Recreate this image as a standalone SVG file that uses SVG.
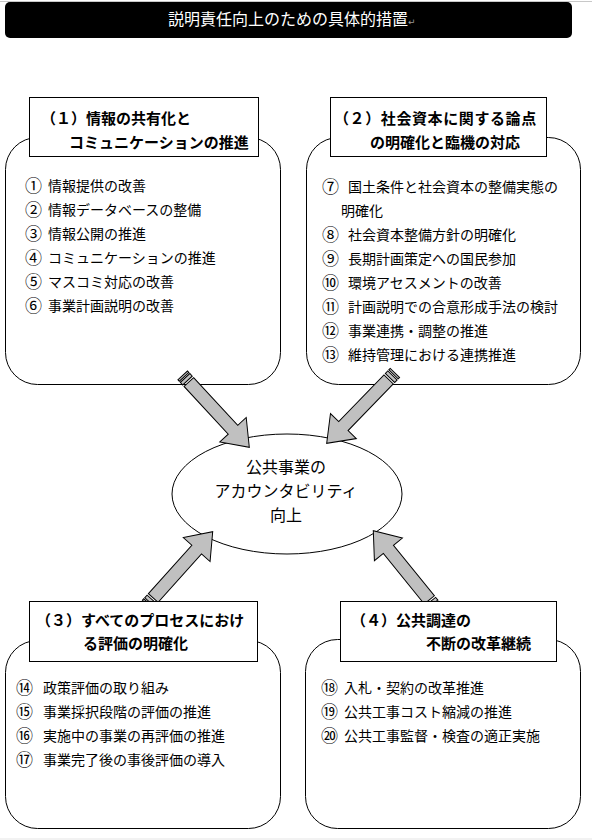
<svg xmlns="http://www.w3.org/2000/svg" width="592" height="840" viewBox="0 0 592 840">
<style>
.box{fill:#fff;stroke:#000;stroke-width:1}
.hd{fill:#fff;stroke:#000;stroke-width:1}
.h{font-family:"Noto Sans CJK JP","Noto Sans CJK SC",sans-serif;font-size:15px;font-weight:700;fill:#000}
.t{font-family:"Noto Sans CJK JP","Noto Sans CJK SC",sans-serif;font-size:14px;fill:#000}
.n{font-size:17px}
.c{font-family:"Noto Sans CJK JP","Noto Sans CJK SC",sans-serif;font-size:16px;fill:#000;text-anchor:middle}
.arr{fill:#c0c0c0;stroke:#000;stroke-width:1;stroke-linejoin:miter}
</style>
<defs>
<g id="arrow">
<rect x="-98" y="-6.5" width="2" height="13"/>
<rect x="-94.5" y="-6.5" width="3.5" height="13"/>
<path d="M-89,-6.5 H-24 V-18 L0,0 L-24,18 V6.5 H-89 Z"/>
</g>
</defs>
<rect x="0" y="838" width="592" height="2" fill="#f2f2f2"/>
<line x1="0" y1="1.5" x2="592" y2="1.5" stroke="#c8c8c8" stroke-width="1"/>
<g id="title">
<rect x="5" y="2" width="567" height="36" rx="5" fill="#000"/>
<text x="168" y="25" font-family="Noto Sans CJK JP, Noto Sans CJK SC, sans-serif" font-size="16" fill="#fff">説明責任向上のための具体的措置<tspan font-family="DejaVu Sans, sans-serif" font-size="9" fill="#999">↵</tspan></text>
</g>
<g id="node1">
<rect class="box" x="5.5" y="137.5" width="275" height="247" rx="32"/>
<text class="t" x="25" y="191"><tspan class="n" dy="1">①</tspan><tspan x="48" dy="-1">情報提供の改善</tspan></text>
<text class="t" x="25" y="215"><tspan class="n" dy="1">②</tspan><tspan x="48" dy="-1">情報データベースの整備</tspan></text>
<text class="t" x="25" y="239"><tspan class="n" dy="1">③</tspan><tspan x="48" dy="-1">情報公開の推進</tspan></text>
<text class="t" x="25" y="263"><tspan class="n" dy="1">④</tspan><tspan x="48" dy="-1">コミュニケーションの推進</tspan></text>
<text class="t" x="25" y="287"><tspan class="n" dy="1">⑤</tspan><tspan x="48" dy="-1">マスコミ対応の改善</tspan></text>
<text class="t" x="25" y="311"><tspan class="n" dy="1">⑥</tspan><tspan x="48" dy="-1">事業計画説明の改善</tspan></text>
</g>
<g id="node2">
<rect class="box" x="306.5" y="137.5" width="274" height="247" rx="32"/>
<text class="t" x="322" y="192"><tspan class="n" dy="1">⑦</tspan><tspan x="348" dy="-1">国土条件と社会資本の整備実態の</tspan></text>
<text class="t" x="341" y="216">明確化</text>
<text class="t" x="322" y="240"><tspan class="n" dy="1">⑧</tspan><tspan x="348" dy="-1">社会資本整備方針の明確化</tspan></text>
<text class="t" x="322" y="264"><tspan class="n" dy="1">⑨</tspan><tspan x="348" dy="-1">長期計画策定への国民参加</tspan></text>
<text class="t" x="322" y="288"><tspan class="n" dy="1">⑩</tspan><tspan x="348" dy="-1">環境アセスメントの改善</tspan></text>
<text class="t" x="322" y="312"><tspan class="n" dy="1">⑪</tspan><tspan x="348" dy="-1">計画説明での合意形成手法の検討</tspan></text>
<text class="t" x="322" y="336"><tspan class="n" dy="1">⑫</tspan><tspan x="348" dy="-1">事業連携・調整の推進</tspan></text>
<text class="t" x="322" y="360"><tspan class="n" dy="1">⑬</tspan><tspan x="348" dy="-1">維持管理における連携推進</tspan></text>
</g>
<g id="node3">
<rect class="box" x="5.5" y="640.5" width="275" height="188" rx="32"/>
<text class="t" x="16" y="693"><tspan class="n" dy="1">⑭</tspan><tspan x="43" dy="-1">政策評価の取り組み</tspan></text>
<text class="t" x="16" y="717"><tspan class="n" dy="1">⑮</tspan><tspan x="43" dy="-1">事業採択段階の評価の推進</tspan></text>
<text class="t" x="16" y="741"><tspan class="n" dy="1">⑯</tspan><tspan x="43" dy="-1">実施中の事業の再評価の推進</tspan></text>
<text class="t" x="16" y="765"><tspan class="n" dy="1">⑰</tspan><tspan x="43" dy="-1">事業完了後の事後評価の導入</tspan></text>
</g>
<g id="node4">
<rect class="box" x="305.5" y="639.5" width="275" height="189" rx="32"/>
<text class="t" x="321" y="693"><tspan class="n" dy="1">⑱</tspan><tspan x="344" dy="-1">入札・契約の改革推進</tspan></text>
<text class="t" x="321" y="717"><tspan class="n" dy="1">⑲</tspan><tspan x="344" dy="-1">公共工事コスト縮減の推進</tspan></text>
<text class="t" x="321" y="741"><tspan class="n" dy="1">⑳</tspan><tspan x="344" dy="-1">公共工事監督・検査の適正実施</tspan></text>
</g>
<g id="center">
<ellipse class="box" cx="287" cy="494" rx="115" ry="60"/>
<text class="c" x="286" y="473">公共事業の</text>
<text class="c" x="286" y="497">アカウンタビリティ</text>
<text class="c" x="286" y="521">向上</text>
</g>
<g id="connectors">
<use href="#arrow" class="arr" transform="translate(249.3,447.3) rotate(47.2)"/>
<use href="#arrow" class="arr" transform="translate(326.7,443.3) rotate(134.1)"/>
<use href="#arrow" class="arr" transform="translate(212.7,531.7) rotate(-48.1)"/>
<use href="#arrow" class="arr" transform="translate(373.3,530.7) rotate(-129)"/>
</g>
<g id="node1-header">
<rect class="hd" x="29.5" y="97.5" width="229" height="59"/>
<text class="h" x="41" y="124">（１）情報の共有化と</text>
<text class="h" x="69" y="148">コミュニケーションの推進</text>
</g>
<g id="node2-header">
<rect class="hd" x="330.5" y="97.5" width="216" height="59"/>
<text class="h" x="334" y="124" letter-spacing="0.6">（２）社会資本に関する論点</text>
<text class="h" x="370" y="148">の明確化と臨機の対応</text>
</g>
<g id="node3-header">
<rect class="hd" x="29.5" y="601.5" width="228" height="60"/>
<text class="h" x="36" y="626">（３）すべてのプロセスにおけ</text>
<text class="h" x="83" y="649">る評価の明確化</text>
</g>
<g id="node4-header">
<rect class="hd" x="340.5" y="601.5" width="216" height="60"/>
<text class="h" x="351" y="626">（４）公共調達の</text>
<text class="h" x="426" y="649">不断の改革継続</text>
</g>
</svg>
